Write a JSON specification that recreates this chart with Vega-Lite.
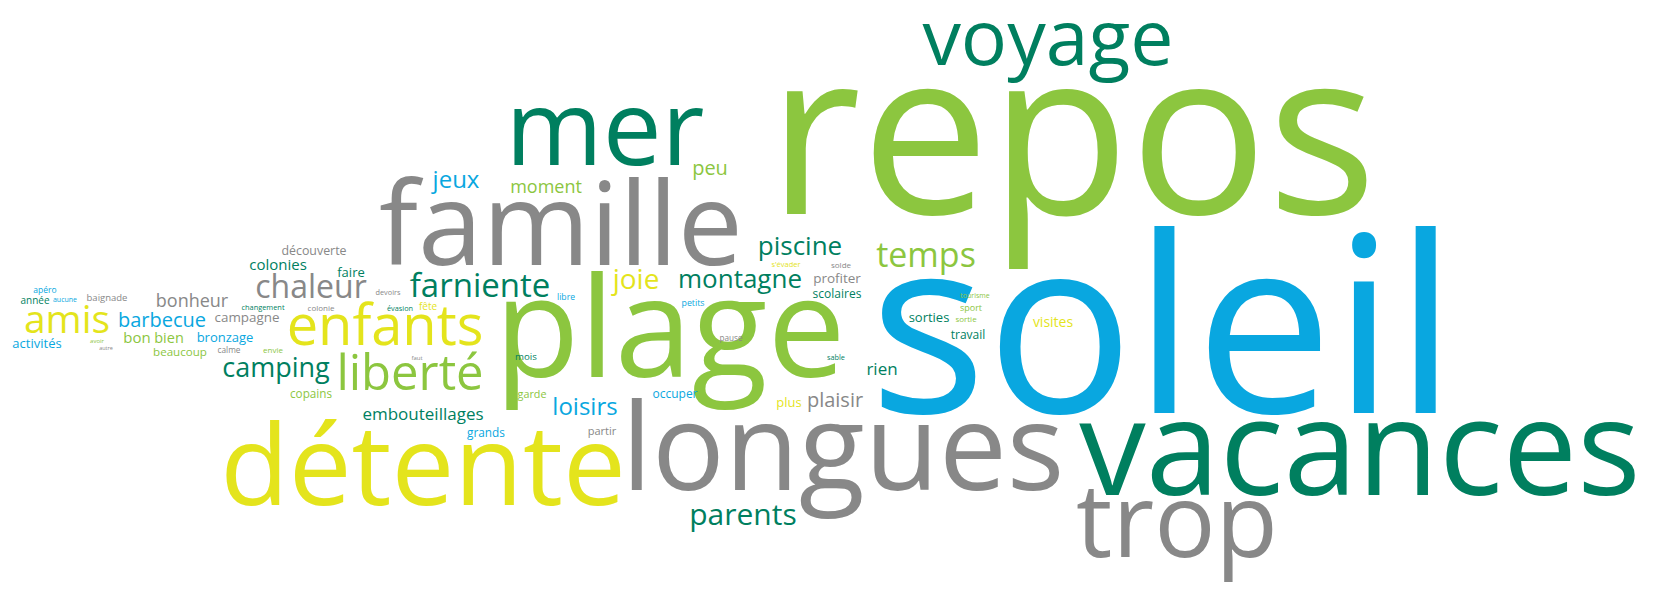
{
  "$schema": "https://vega.github.io/schema/vega-lite/v6.json",
  "width": 1653,
  "height": 591,
  "padding": 0,
  "autosize": "none",
  "background": "white",
  "config": {"view": {"stroke": null}},
  "data": {"values": [
    {"word": "repos", "x": 1072, "y": 214, "count": 229, "group": "G"},
    {"word": "soleil", "x": 1163, "y": 413, "count": 245, "group": "B"},
    {"word": "plage", "x": 670, "y": 377, "count": 139, "group": "G"},
    {"word": "vacances", "x": 1360, "y": 495, "count": 133, "group": "D"},
    {"word": "voyage", "x": 1048, "y": 65, "count": 77, "group": "D"},
    {"word": "trop", "x": 1177, "y": 557, "count": 102, "group": "R"},
    {"word": "longues", "x": 843, "y": 490, "count": 121, "group": "R"},
    {"word": "détente", "x": 423, "y": 505, "count": 112, "group": "Y"},
    {"word": "famille", "x": 561, "y": 265, "count": 116, "group": "R"},
    {"word": "mer", "x": 605, "y": 165, "count": 105, "group": "D"},
    {"word": "enfants", "x": 385, "y": 345, "count": 56, "group": "Y"},
    {"word": "liberté", "x": 410, "y": 390, "count": 49, "group": "G"},
    {"word": "amis", "x": 67, "y": 333, "count": 39, "group": "Y"},
    {"word": "chaleur", "x": 311, "y": 298, "count": 32, "group": "R"},
    {"word": "farniente", "x": 480, "y": 297, "count": 33, "group": "D"},
    {"word": "camping", "x": 276, "y": 377, "count": 27, "group": "D"},
    {"word": "montagne", "x": 740, "y": 288, "count": 26, "group": "D"},
    {"word": "piscine", "x": 800, "y": 255, "count": 26, "group": "D"},
    {"word": "temps", "x": 926, "y": 267, "count": 34, "group": "G"},
    {"word": "joie", "x": 636, "y": 289, "count": 28, "group": "Y"},
    {"word": "parents", "x": 743, "y": 525, "count": 30, "group": "D"},
    {"word": "loisirs", "x": 585, "y": 415, "count": 24, "group": "B"},
    {"word": "embouteillages", "x": 423, "y": 420, "count": 17, "group": "D"},
    {"word": "bonheur", "x": 192, "y": 307, "count": 18, "group": "R"},
    {"word": "barbecue", "x": 162, "y": 327, "count": 20, "group": "B"},
    {"word": "jeux", "x": 456, "y": 188, "count": 24, "group": "B"},
    {"word": "moment", "x": 546, "y": 193, "count": 18, "group": "G"},
    {"word": "peu", "x": 710, "y": 175, "count": 20, "group": "G"},
    {"word": "plaisir", "x": 835, "y": 407, "count": 20, "group": "R"},
    {"word": "plus", "x": 789, "y": 407, "count": 13, "group": "Y"},
    {"word": "occuper", "x": 675, "y": 398, "count": 12, "group": "B"},
    {"word": "rien", "x": 882, "y": 375, "count": 17, "group": "D"},
    {"word": "profiter", "x": 837, "y": 283, "count": 13.5, "group": "R"},
    {"word": "scolaires", "x": 837, "y": 298, "count": 12, "group": "D"},
    {"word": "sorties", "x": 929, "y": 322, "count": 13, "group": "D"},
    {"word": "travail", "x": 968, "y": 339, "count": 12, "group": "D"},
    {"word": "visites", "x": 1053, "y": 327, "count": 14, "group": "Y"},
    {"word": "tourisme", "x": 975, "y": 298, "count": 7, "group": "G"},
    {"word": "sport", "x": 971, "y": 311, "count": 9, "group": "G"},
    {"word": "sortie", "x": 966, "y": 322, "count": 8, "group": "G"},
    {"word": "bronzage", "x": 225, "y": 342, "count": 13, "group": "B"},
    {"word": "bon", "x": 137, "y": 343, "count": 15, "group": "G"},
    {"word": "bien", "x": 169, "y": 343, "count": 14.5, "group": "G"},
    {"word": "campagne", "x": 247, "y": 322, "count": 13.4, "group": "R"},
    {"word": "colonies", "x": 278, "y": 270, "count": 15, "group": "D"},
    {"word": "découverte", "x": 314, "y": 255, "count": 12.4, "group": "R"},
    {"word": "faire", "x": 351, "y": 277, "count": 13, "group": "D"},
    {"word": "activités", "x": 37, "y": 348, "count": 13, "group": "B"},
    {"word": "année", "x": 35, "y": 304, "count": 10, "group": "D"},
    {"word": "aucune", "x": 65, "y": 302, "count": 7, "group": "B"},
    {"word": "apéro", "x": 45, "y": 293, "count": 8.5, "group": "B"},
    {"word": "baignade", "x": 107, "y": 301, "count": 9.5, "group": "R"},
    {"word": "beaucoup", "x": 180, "y": 356, "count": 11.6, "group": "G"},
    {"word": "calme", "x": 229, "y": 353, "count": 8.3, "group": "R"},
    {"word": "autre", "x": 106, "y": 350, "count": 5.5, "group": "R"},
    {"word": "avoir", "x": 97, "y": 343, "count": 6, "group": "G"},
    {"word": "changement", "x": 263, "y": 310, "count": 7.4, "group": "D"},
    {"word": "colonie", "x": 321, "y": 311, "count": 8, "group": "R"},
    {"word": "envie", "x": 273, "y": 353, "count": 8, "group": "G"},
    {"word": "copains", "x": 311, "y": 398, "count": 11.7, "group": "G"},
    {"word": "devoirs", "x": 388, "y": 295, "count": 7.3, "group": "R"},
    {"word": "évasion", "x": 400, "y": 311, "count": 7.3, "group": "D"},
    {"word": "fête", "x": 428, "y": 310, "count": 10, "group": "Y"},
    {"word": "faut", "x": 417, "y": 360, "count": 6, "group": "R"},
    {"word": "mois", "x": 526, "y": 360, "count": 9.7, "group": "D"},
    {"word": "garde", "x": 532, "y": 398, "count": 10.8, "group": "G"},
    {"word": "grands", "x": 486, "y": 437, "count": 11.8, "group": "B"},
    {"word": "partir", "x": 602, "y": 435, "count": 11, "group": "R"},
    {"word": "libre", "x": 566, "y": 300, "count": 8.6, "group": "B"},
    {"word": "petits", "x": 693, "y": 306, "count": 8.8, "group": "B"},
    {"word": "pause", "x": 731, "y": 341, "count": 8.2, "group": "R"},
    {"word": "sable", "x": 836, "y": 360, "count": 7.3, "group": "D"},
    {"word": "s'évader", "x": 786, "y": 267, "count": 7.5, "group": "Y"},
    {"word": "solde", "x": 841, "y": 268, "count": 8, "group": "R"}
  ]},
  "mark": {"type": "text", "font": "Open Sans", "align": "center", "baseline": "alphabetic"},
  "encoding": {
    "x": {"field": "x", "type": "quantitative", "scale": {"domain": [0, 1653], "nice": false, "zero": false}, "axis": null},
    "y": {"field": "y", "type": "quantitative", "scale": {"domain": [0, 591], "nice": false, "zero": false, "reverse": true}, "axis": null},
    "size": {"field": "count", "type": "quantitative", "scale": {"type": "linear", "domain": [0, 250], "range": [0, 250]}, "legend": null},
    "color": {"field": "group", "type": "nominal", "scale": {"domain": ["G", "B", "D", "Y", "R"], "range": ["#8cc63f", "#09a7e0", "#007f5f", "#e4e41c", "#888888"]}, "legend": null},
    "text": {"field": "word", "type": "nominal"}
  }
}
